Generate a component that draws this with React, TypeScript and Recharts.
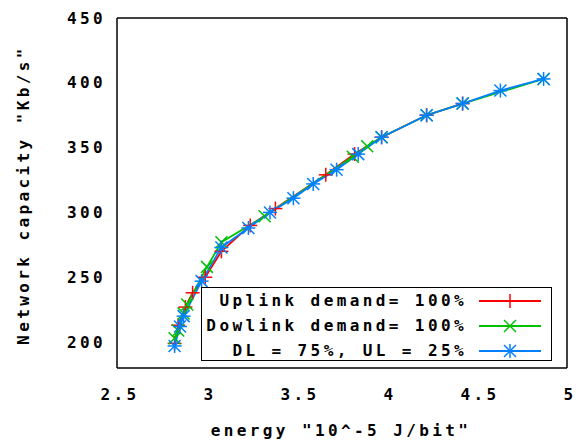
import React from 'react';
import { LineChart, Line, XAxis, YAxis } from 'recharts';

// energy (10^-5 J/bit) and capacity (Kb/s) per series
const uplinkX = [2.82, 2.84, 2.88, 2.92, 2.99, 3.08, 3.24, 3.38, 3.66, 3.82, 3.97, 4.22, 4.42];
const uplinkY = [199, 213, 227, 238, 250, 270, 290, 303, 329, 345, 358, 375, 384];

const downlinkX = [2.82, 2.84, 2.87, 2.89, 3.0, 3.08, 3.32, 3.81, 3.89, 3.97, 4.22, 4.42, 4.87];
const downlinkY = [203, 209, 222, 229, 258, 277, 297, 343, 351, 358, 375, 384, 403];

const mixedX = [2.82, 2.85, 2.87, 2.97, 3.08, 3.23, 3.35, 3.48, 3.59, 3.72, 3.84, 3.97, 4.22, 4.42, 4.63, 4.87];
const mixedY = [197, 212, 220, 247, 273, 288, 300, 311, 322, 333, 345, 358, 375, 384, 394, 403];

const xTicks = [2.5, 3, 3.5, 4, 4.5, 5];
const yTicks = [200, 250, 300, 350, 400, 450];

const RED = '#ff0000';
const GREEN = '#00c000';
const BLUE = '#0080ff';
const FONT = '"DejaVu Sans Mono", monospace';

const toPoints = (xs: number[], ys: number[]) => xs.map((x, i) => ({ x, y: ys[i] }));

const uplink = toPoints(uplinkX, uplinkY);
const downlink = toPoints(downlinkX, downlinkY);
const mixed = toPoints(mixedX, mixedY);

const textStyle = { fontFamily: FONT, fontSize: 16, fontWeight: 'bold' as const, fill: '#000', letterSpacing: 3.4 };

const Plus = ({ cx, cy, color }: any) => (
  <g stroke={color} strokeWidth={1.5}>
    <line x1={cx - 7} y1={cy} x2={cx + 7} y2={cy} />
    <line x1={cx} y1={cy - 7} x2={cx} y2={cy + 7} />
  </g>
);

const Cross = ({ cx, cy, color }: any) => (
  <g stroke={color} strokeWidth={1.5}>
    <line x1={cx - 6} y1={cy - 6} x2={cx + 6} y2={cy + 6} />
    <line x1={cx - 6} y1={cy + 6} x2={cx + 6} y2={cy - 6} />
  </g>
);

const Star = ({ cx, cy, color }: any) => (
  <g stroke={color} strokeWidth={1.5}>
    <line x1={cx - 7} y1={cy} x2={cx + 7} y2={cy} />
    <line x1={cx} y1={cy - 7} x2={cx} y2={cy + 7} />
    <line x1={cx - 6} y1={cy - 6} x2={cx + 6} y2={cy + 6} />
    <line x1={cx - 6} y1={cy + 6} x2={cx + 6} y2={cy - 6} />
  </g>
);

const makeDot = (Shape: any, color: string) => (props: any) => (
  <g key={`d-${props.index}`}>
    <Shape cx={props.cx} cy={props.cy} color={color} />
  </g>
);

const legendRows = [
  { label: 'Uplink demand= 100%', color: RED, Shape: Plus },
  { label: 'Dowlink demand= 100%', color: GREEN, Shape: Cross },
  { label: 'DL = 75%, UL = 25%', color: BLUE, Shape: Star },
];

const axisLine = { stroke: '#000', strokeWidth: 1.5 };

export default function App() {
  return (
    <div style={{ position: 'absolute', left: 0, top: 0, width: 587, height: 445, background: '#fff' }}>
      <LineChart width={587} height={445} margin={{ top: 18, right: 20, bottom: 27, left: 0 }}>
        <XAxis
          type="number"
          dataKey="x"
          domain={[2.5, 5]}
          ticks={xTicks}
          allowDataOverflow
          height={50}
          tickLine={false}
          tickSize={0}
          tickMargin={21}
          axisLine={axisLine}
          tick={{ ...textStyle, dx: 3 }}
          label={{
            content: () => (
              <text x={341} y={436} textAnchor="middle" style={textStyle}>
                energy "10^-5 J/bit"
              </text>
            ),
          }}
        />
        <XAxis xAxisId="bm" type="number" domain={[2.5, 5]} ticks={xTicks} allowDataOverflow mirror tick={false} tickSize={8} axisLine={false} tickLine={axisLine} />
        <XAxis xAxisId="top" orientation="top" type="number" domain={[2.5, 5]} ticks={xTicks} allowDataOverflow mirror tick={false} tickSize={8} axisLine={axisLine} tickLine={axisLine} />
        <YAxis
          type="number"
          dataKey="y"
          domain={[180, 450]}
          ticks={yTicks}
          allowDataOverflow
          width={117}
          tickLine={false}
          tickSize={0}
          tickMargin={11}
          axisLine={axisLine}
          tick={textStyle}
          label={{
            content: () => (
              <text x={29} y={195} textAnchor="middle" transform="rotate(-90 29 195)" style={textStyle}>
                Network capacity "Kb/s"
              </text>
            ),
          }}
        />
        <YAxis yAxisId="lm" type="number" domain={[180, 450]} ticks={yTicks} allowDataOverflow mirror tick={false} tickSize={8} axisLine={false} tickLine={axisLine} />
        <YAxis yAxisId="right" orientation="right" type="number" domain={[180, 450]} ticks={yTicks} allowDataOverflow mirror tick={false} tickSize={8} axisLine={axisLine} tickLine={axisLine} />

        <Line data={uplink} dataKey="y" stroke={RED} strokeWidth={1.8} dot={makeDot(Plus, RED)} activeDot={false} isAnimationActive={false} />
        <Line data={downlink} dataKey="y" stroke={GREEN} strokeWidth={1.8} dot={makeDot(Cross, GREEN)} activeDot={false} isAnimationActive={false} />
        <Line data={mixed} dataKey="y" stroke={BLUE} strokeWidth={1.8} dot={makeDot(Star, BLUE)} activeDot={false} isAnimationActive={false} />
      </LineChart>

      <div
        style={{
          position: 'absolute',
          left: 201,
          top: 287,
          width: 351,
          height: 74,
          border: '1.5px solid #000',
          boxSizing: 'border-box',
          background: '#fff',
        }}
      >
        {legendRows.map((row, i) => (
          <div key={row.label} style={{ position: 'absolute', left: 0, top: 12.5 + i * 25 - 12, width: '100%', height: 24 }}>
            <div
              style={{
                position: 'absolute',
                left: 0,
                width: 265,
                textAlign: 'right',
                lineHeight: '24px',
                fontFamily: FONT,
                fontSize: 16,
                fontWeight: 'bold',
                letterSpacing: 3.4,
                whiteSpace: 'nowrap',
                color: '#000',
              }}
            >
              {row.label}
            </div>
            <svg style={{ position: 'absolute', left: 276, top: 0 }} width={64} height={24}>
              <line x1={1} y1={12} x2={63} y2={12} stroke={row.color} strokeWidth={1.8} />
              <row.Shape cx={32} cy={12} color={row.color} />
            </svg>
          </div>
        ))}
      </div>
    </div>
  );
}
